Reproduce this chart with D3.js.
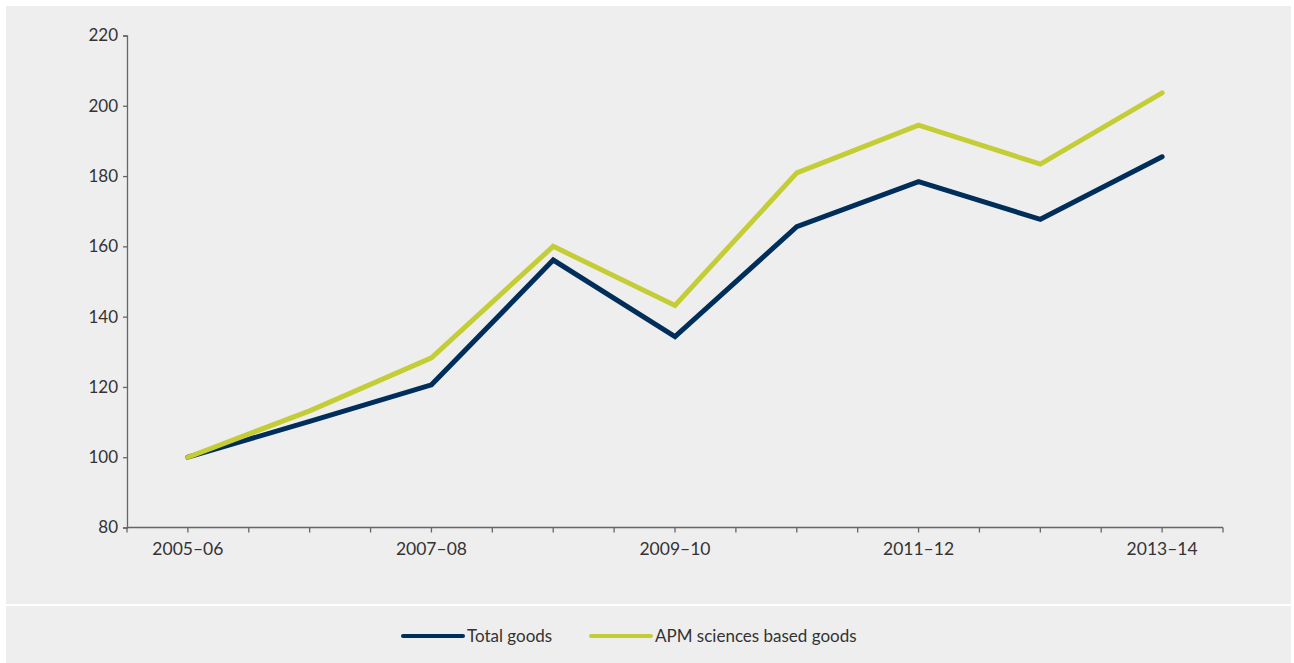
<!DOCTYPE html>
<html>
<head>
<meta charset="utf-8">
<script src="https://cdn.jsdelivr.net/npm/d3@7"></script>
<style>
  body { margin: 0; background: #fff; }
  svg { display: block; font-family: Lato, "Open Sans", sans-serif; }
</style>
</head>
<body>
<div id="chart"></div>
<script>
// data (index, 2005-06 = 100)
const years = ["2005–06","2006–07","2007–08","2008–09","2009–10","2010–11","2011–12","2012–13","2013–14"]
const totalGoods = [100, 110.2, 120.6, 156.1, 134.3, 165.6, 178.4, 167.7, 185.5]
const apmGoods = [100, 113.2, 128.3, 160.0, 143.2, 180.9, 194.5, 183.4, 203.7]
const yTicks = [80, 100, 120, 140, 160, 180, 200, 220]
const shownYears = ["2005–06","2007–08","2009–10","2011–12","2013–14"]
const seriesNames = ["Total goods", "APM sciences based goods"]
const seriesColors = ["#002e5b", "#c5cd36"]

var W = 1294, H = 663

var svg = d3.select("#chart")
  .append("svg")
    .attr("width", W)
    .attr("height", H)

// grey panels
svg.append("rect").attr("x", 6).attr("y", 6).attr("width", 1285).attr("height", 598).attr("fill", "#eeeeee")
svg.append("rect").attr("x", 6).attr("y", 606).attr("width", 1285).attr("height", 57).attr("fill", "#eeeeee")

var x = d3.scaleBand()
    .domain(years)
    .range([127, 1223])
    .padding(0)

var y = d3.scaleLinear()
    .domain([80, 220])
    .range([527.5, 35.5])

// x axis: ticks on band edges and centres, labels every other year
var xg = svg.append("g").attr("transform", "translate(0,527.5)")
xg.append("line")
  .attr("x1", 127).attr("x2", 1223)
  .attr("stroke", "#666").attr("stroke-width", 1.3)

var edges = years.map(d => x(d)).concat([x(years[years.length - 1]) + x.bandwidth()])
var centres = years.map(d => x(d) + x.bandwidth() / 2)
xg.selectAll("line.tick")
  .data(edges.concat(centres))
  .enter()
  .append("line")
    .attr("class", "tick")
    .attr("x1", d => d).attr("x2", d => d)
    .attr("y1", 0).attr("y2", 5)
    .attr("stroke", "#666").attr("stroke-width", 1.3)

xg.selectAll("text")
  .data(shownYears)
  .enter()
  .append("text")
    .attr("x", d => x(d) + x.bandwidth() / 2)
    .attr("y", 27)
    .attr("text-anchor", "middle")
    .attr("fill", "#333")
    .style("font-size", "17.5px")
    .text(d => d)

// y axis
var yAxis = d3.axisLeft(y)
  .tickValues(yTicks)
  .tickSize(4)
  .tickPadding(5)
var yg = svg.append("g")
  .attr("transform", "translate(127,0)")
  .call(yAxis)
yg.select(".domain").attr("stroke", "#666").attr("stroke-width", 1.3)
yg.selectAll(".tick line").attr("stroke", "#666").attr("stroke-width", 1.3)
yg.selectAll(".tick text")
  .attr("fill", "#333")
  .style("font-size", "17px")
  .style("font-family", "Lato, 'Open Sans', sans-serif")

// lines
var line = d3.line()
  .x((d, i) => x(years[i]) + x.bandwidth() / 2)
  .y(d => y(d))

var series = [totalGoods, apmGoods]
svg.selectAll("path.series")
  .data(series)
  .enter()
  .append("path")
    .attr("class", "series")
    .attr("d", d => line(d))
    .attr("fill", "none")
    .attr("stroke", (d, i) => seriesColors[i])
    .attr("stroke-width", 5)
    .attr("stroke-linecap", "round")
    .attr("stroke-linejoin", "miter")

// legend
var legendX = [403, 591]
var lg = svg.selectAll("g.legend")
  .data(seriesNames)
  .enter()
  .append("g")
    .attr("class", "legend")
    .attr("transform", (d, i) => "translate(" + legendX[i] + ",636)")
lg.append("line")
  .attr("x1", 0).attr("x2", 60)
  .attr("stroke", (d, i) => seriesColors[i])
  .attr("stroke-width", 4)
  .attr("stroke-linecap", "round")
lg.append("text")
  .attr("x", 64)
  .attr("y", 6)
  .attr("fill", "#333")
  .style("font-size", "17px")
  .text(d => d)
</script>
</body>
</html>
